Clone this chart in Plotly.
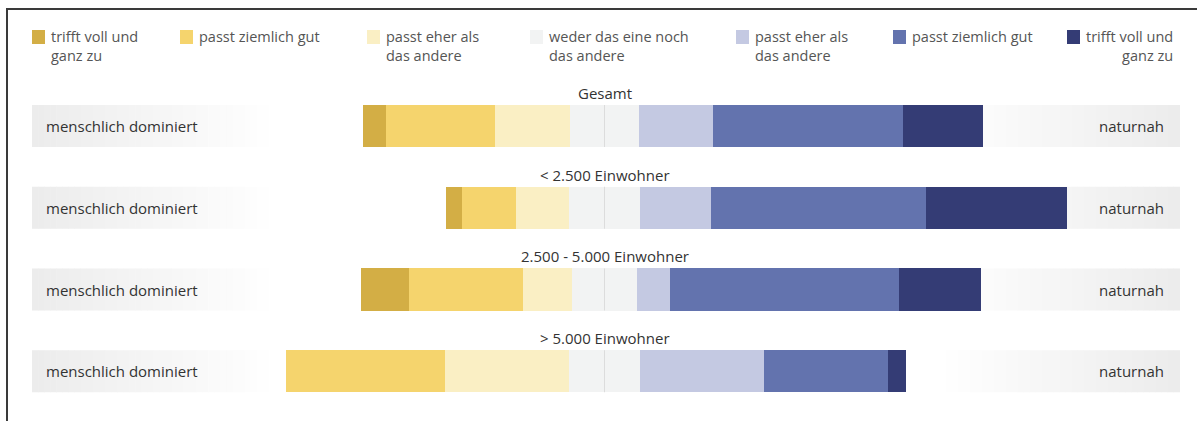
import plotly.graph_objects as go

# ---------------- data ----------------
groups = ["Gesamt", "< 2.500 Einwohner", "2.500 - 5.000 Einwohner", "> 5.000 Einwohner"]
left_label = "menschlich dominiert"
right_label = "naturnah"

# human-dominated side (left)
human_full = [3.7, 2.7, 7.7, 0.0]       # trifft voll und ganz zu
human_quite = [17.6, 8.6, 18.4, 25.6]   # passt ziemlich gut
human_rather = [12.1, 8.6, 7.9, 20.0]   # passt eher als das andere
neutral = [11.1, 11.4, 10.5, 11.4]      # weder das eine noch das andere
# near-natural side (right)
nature_rather = [11.9, 11.5, 5.3, 20.0]
nature_quite = [30.6, 34.5, 36.9, 20.0]
nature_full = [12.9, 22.8, 13.2, 2.8]

legend_labels = ["trifft voll und<br>ganz zu", "passt ziemlich gut", "passt eher als<br>das andere",
                 "weder das eine noch<br>das andere", "passt eher als<br>das andere",
                 "passt ziemlich gut", "trifft voll und<br>ganz zu"]

colors = ["#d3ae45", "#f5d46d", "#faefc4", "#f2f3f3", "#c4c9e2", "#6373ae", "#343c75"]

# ---------------- layout constants ----------------
W, H = 1197, 421
FONT = "Open Sans"
FS = 15
XC, PPU = 604.5, 6.21          # center pixel, pixels per percent
ROW0, ROWH = 126.0, 81.75      # first row center pixel, row pitch
BARW = 0.514

def xp(px):
    return px / W

def yp(py):
    return 1 - py / H

ypos = list(range(len(groups)))

fig = go.Figure()

def add(vals, color, sign):
    fig.add_trace(go.Bar(
        y=ypos, x=[sign * v for v in vals], orientation="h",
        marker=dict(color=color, line=dict(width=0)),
        width=BARW, showlegend=False, hoverinfo="skip"))

half = [v / 2 for v in neutral]
add(half, colors[3], -1)
add(half, colors[3], 1)
add(human_rather, colors[2], -1)
add(nature_rather, colors[4], 1)
add(human_quite, colors[1], -1)
add(nature_quite, colors[5], 1)
add(human_full, colors[0], -1)
add(nature_full, colors[6], 1)

shapes = []
annotations = []

# gradient label boxes
N = 40
for i in ypos:
    for k in range(N):
        t = k / N
        g = int(round(236 + (255 - 236) * t))
        c = f"rgb({g},{g},{g})"
        x0 = 32 + (275 - 32) * k / N
        x1 = 32 + (275 - 32) * (k + 1) / N + 0.5
        shapes.append(dict(type="rect", xref="paper", yref="y", x0=xp(x0), x1=xp(x1),
                           y0=i - BARW / 2, y1=i + BARW / 2, fillcolor=c,
                           line=dict(width=0), layer="below"))
        x0r = 1180 - (1180 - 940) * (k + 1) / N - 0.5
        x1r = 1180 - (1180 - 940) * k / N
        shapes.append(dict(type="rect", xref="paper", yref="y", x0=xp(x0r), x1=xp(x1r),
                           y0=i - BARW / 2, y1=i + BARW / 2, fillcolor=c,
                           line=dict(width=0), layer="below"))
    # center line
    shapes.append(dict(type="line", xref="x", yref="y", x0=0, x1=0,
                       y0=i - BARW / 2, y1=i + BARW / 2,
                       line=dict(color="#dcdcdc", width=1), layer="above"))
    annotations.append(dict(x=xp(44), y=i, xref="paper", yref="y", text=left_label,
                            showarrow=False, xanchor="left", yanchor="middle",
                            font=dict(family=FONT, size=FS, color="#333333")))
    annotations.append(dict(x=xp(1166), y=i, xref="paper", yref="y", text=right_label,
                            showarrow=False, xanchor="right", yanchor="middle",
                            font=dict(family=FONT, size=FS, color="#333333")))
    annotations.append(dict(x=0, y=i - 0.404, xref="x", yref="y", text=groups[i],
                            showarrow=False, xanchor="center", yanchor="middle",
                            font=dict(family=FONT, size=FS, color="#333333")))

# legend (manual)
leg_x = [32, 180, 367, 530, 736, 893, 1067]
for j, (lx, lab, col) in enumerate(zip(leg_x, legend_labels, colors)):
    shapes.append(dict(type="rect", xref="paper", yref="paper",
                       x0=xp(lx), x1=xp(lx + 13), y0=yp(30), y1=yp(44),
                       fillcolor=col, line=dict(width=0)))
    annotations.append(dict(x=xp(lx + 17), y=yp(25), xref="paper", yref="paper",
                            text=lab, showarrow=False, xanchor="left", yanchor="top",
                            align="right" if j == len(colors) - 1 else "left",
                            font=dict(family=FONT, size=FS - 0.5, color="#555555")))

# frame
shapes.append(dict(type="line", xref="paper", yref="paper", x0=xp(6), x1=1, y0=yp(9), y1=yp(9),
                   line=dict(color="#3a3a3a", width=2)))
shapes.append(dict(type="line", xref="paper", yref="paper", x0=xp(7), x1=xp(7), y0=yp(9), y1=0,
                   line=dict(color="#3a3a3a", width=2)))

fig.update_layout(
    width=W, height=H, margin=dict(l=0, r=0, t=0, b=0),
    paper_bgcolor="white", plot_bgcolor="white",
    barmode="relative", bargap=0,
    xaxis=dict(range=[-XC / PPU, (W - XC) / PPU], visible=False, fixedrange=True),
    yaxis=dict(range=[(H - ROW0) / ROWH, -ROW0 / ROWH], visible=False, fixedrange=True),
    shapes=shapes, annotations=annotations,
    font=dict(family=FONT),
)

fig.write_html("out.html", config={"displayModeBar": False},
               post_script="document.body.style.margin='0';")
